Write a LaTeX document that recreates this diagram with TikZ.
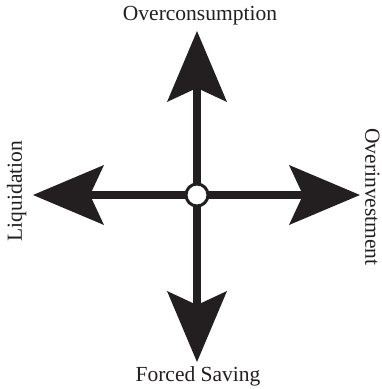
\documentclass[tikz,border=0pt]{standalone}
\usepackage{fontspec}
\setmainfont{Liberation Serif}
\usepackage{xcolor}
\usetikzlibrary{arrows.meta}
\definecolor{ink}{RGB}{35,31,32}

\begin{document}
\begin{tikzpicture}[x=1pt, y=1pt,
    bigarrow/.style={draw=ink, line width=8pt,
        -{Stealth[length=71pt, width=60pt, inset=14pt, line width=0pt]}},
    txt/.style={font=\fontsize{21.5pt}{24pt}\selectfont, text=ink, inner sep=0pt, anchor=base}]
    \useasboundingbox (-197,-194) rectangle (185,195);

    \coordinate (c) at (0,0);
    \coordinate (U) at (0,164);
    \coordinate (D) at (0,-167);
    \coordinate (L) at (-164,0);
    \coordinate (R) at (163,0);

    \foreach \tip in {U,D,L,R}{
        \draw[bigarrow] (c) -- (\tip);
    }
    \node[circle, draw=ink, fill=white, line width=3pt, minimum size=22pt, inner sep=0pt] (O) at (c) {};

    \node[txt] (over) at (3,175) {Overconsumption};
    \node[txt] (forced) at (1,-186) {Forced Saving};
    \node[txt, rotate=90] (liq) at (-175,4) {Liquidation};
    \node[txt, rotate=-90] (inv) at (168.5,-2) {Overinvestment};
\end{tikzpicture}
\end{document}
